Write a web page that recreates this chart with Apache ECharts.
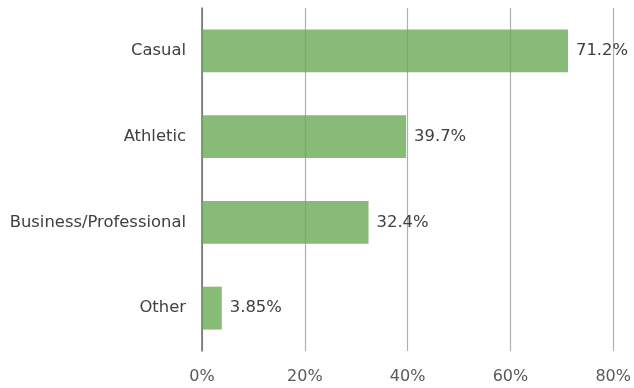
<!DOCTYPE html>
<html><head><meta charset="utf-8">
<script src="https://cdn.jsdelivr.net/npm/echarts@6/dist/echarts.min.js"></script>
<style>html,body{margin:0;padding:0;background:#fff}#c{width:634px;height:388px}</style>
</head><body><div id="c"></div>
<script>
const categories = ["Casual", "Athletic", "Business/Professional", "Other"];
const values = [71.2, 39.7, 32.4, 3.85];
const valueLabels = ["71.2%", "39.7%", "32.4%", "3.85%"];
const xTicks = [0, 20, 40, 60, 80];

const chart = echarts.init(document.getElementById('c'), null, {renderer: 'canvas'});
const font = "'DejaVu Sans', sans-serif";
chart.setOption({
  animation: false,
  grid: {left: 202, right: 18, top: 8, bottom: 37, containLabel: false},
  xAxis: {
    type: 'value', min: xTicks[0], max: xTicks[xTicks.length - 1], interval: 20,
    axisLine: {show: false}, axisTick: {show: false},
    splitLine: {lineStyle: {color: '#b0b0b0', width: 1.2}},
    axisLabel: {formatter: v => v + '%', color: '#595959', fontSize: 16, fontFamily: font, margin: 18}
  },
  yAxis: {
    type: 'category', data: categories, inverse: true,
    axisLine: {lineStyle: {color: '#6e6e6e', width: 1.5}},
    axisTick: {show: false},
    axisLabel: {color: '#404040', fontSize: 16.4, fontFamily: font, margin: 16}
  },
  series: [{
    type: 'bar', data: values, barWidth: '50%',
    itemStyle: {color: 'rgba(106,170,85,0.8)'},
    label: {show: true, position: 'right', distance: 8, color: '#404040', fontSize: 16.4, fontFamily: font,
      formatter: p => valueLabels[p.dataIndex]}
  }]
});
</script></body></html>
